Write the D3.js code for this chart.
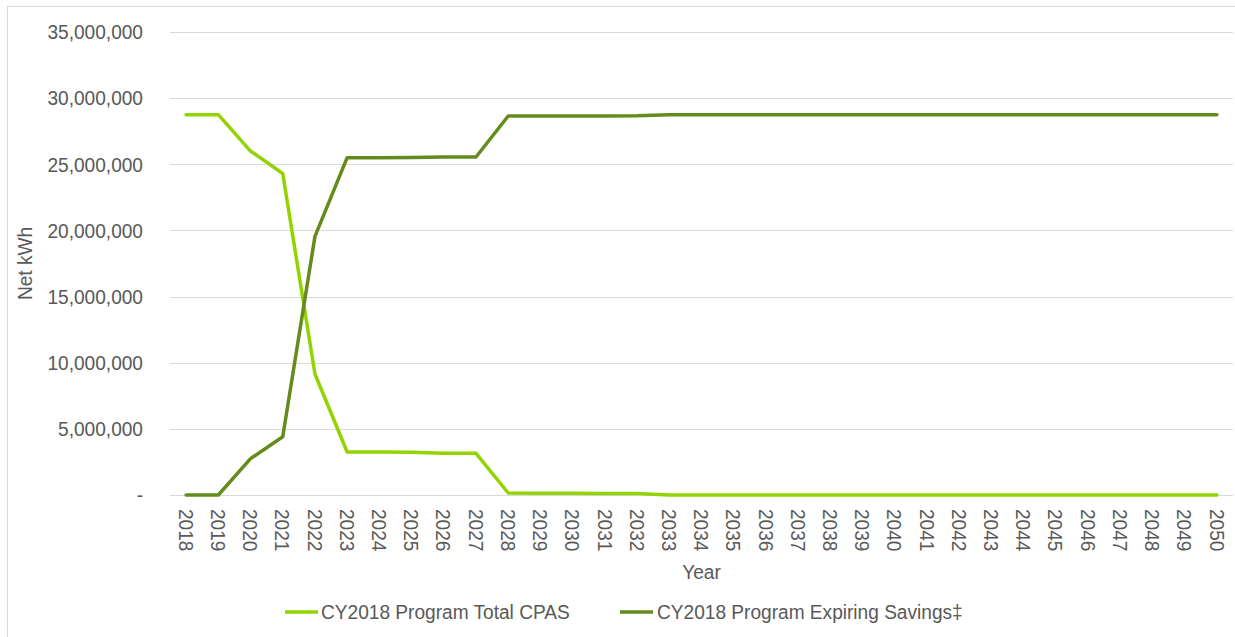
<!DOCTYPE html>
<html>
<head>
<meta charset="utf-8">
<script src="https://cdn.jsdelivr.net/npm/d3@7"></script>
<style>
  body { margin: 0; background: #fff; }
  svg text { font-family: "Liberation Sans", Arial, sans-serif; fill: #595959; }
</style>
</head>
<body>
<div id="chart"></div>
<script>
// data
const years = d3.range(2018, 2051).map(String);
const cpas = [28750000, 28750000, 26000000, 24300000, 9150000, 3250000, 3250000, 3230000, 3150000, 3150000,
  150000, 140000, 130000, 120000, 110000,
  0, 0, 0, 0, 0, 0, 0, 0, 0, 0, 0, 0, 0, 0, 0, 0, 0, 0];
const expiring = [0, 0, 2750000, 4400000, 19550000, 25500000, 25500000, 25520000, 25550000, 25550000,
  28650000, 28650000, 28650000, 28650000, 28660000,
  28750000, 28750000, 28750000, 28750000, 28750000, 28750000, 28750000, 28750000, 28750000, 28750000,
  28750000, 28750000, 28750000, 28750000, 28750000, 28750000, 28750000, 28750000];
const yTicks = [0, 5000000, 10000000, 15000000, 20000000, 25000000, 30000000, 35000000];
const seriesNames = ["CY2018 Program Total CPAS", "CY2018 Program Expiring Savings\u2021"];
const colors = ["#92d400", "#648c1c"];

const W = 1235, H = 637;
const m = {top: 32, right: 2, bottom: 142, left: 170};
const iw = W - m.left - m.right, ih = H - m.top - m.bottom;
const sx = 0.91; // narrow the text like the original's condensed face

const svg = d3.select("#chart").append("svg")
  .attr("width", W).attr("height", H);

// outer border
svg.append("rect")
  .attr("x", 7.5).attr("y", 6.5)
  .attr("width", W).attr("height", H)
  .attr("fill", "none").attr("stroke", "#d9d9d9");

const g = svg.append("g").attr("transform", `translate(${m.left},${m.top})`);

const x = d3.scaleBand().domain(years).range([0, iw]);
const y = d3.scaleLinear().domain([0, 35000000]).range([ih, 0]);

// gridlines
g.append("g").selectAll("line")
  .data(yTicks).enter().append("line")
  .attr("x1", 0).attr("x2", iw)
  .attr("y1", d => Math.round(y(d)) + 0.5).attr("y2", d => Math.round(y(d)) + 0.5)
  .attr("stroke", "#d9d9d9").attr("stroke-width", 1);

// y axis labels
const fmt = d3.format(",");
g.append("g").selectAll("text")
  .data(yTicks).enter().append("text")
  .attr("transform", d => `translate(-27,${y(d)}) scale(${sx},1)`)
  .attr("dy", "0.35em")
  .attr("text-anchor", "end")
  .style("font-size", "21px")
  .text(d => d === 0 ? "-" : fmt(d));

// x axis labels
g.append("g").selectAll("text")
  .data(years).enter().append("text")
  .attr("transform", d => `translate(${x(d) + x.bandwidth() / 2},${ih + 14}) rotate(90) scale(${sx},1)`)
  .attr("dy", "0.35em")
  .attr("text-anchor", "start")
  .style("font-size", "21px")
  .text(d => d);

// axis titles
svg.append("text")
  .attr("transform", `translate(32,${m.top + ih / 2}) rotate(-90) scale(${sx},1)`)
  .attr("text-anchor", "middle")
  .style("font-size", "21px")
  .text("Net kWh");
svg.append("text")
  .attr("transform", `translate(${m.left + iw / 2},579) scale(${sx},1)`)
  .attr("text-anchor", "middle")
  .style("font-size", "21px")
  .text("Year");

// lines
const line = d3.line()
  .x((d, i) => x(years[i]) + x.bandwidth() / 2)
  .y(d => y(d));
[cpas, expiring].forEach((s, i) => {
  g.append("path")
    .datum(s)
    .attr("fill", "none")
    .attr("stroke", colors[i])
    .attr("stroke-width", 3.5)
    .attr("stroke-linejoin", "round")
    .attr("stroke-linecap", "round")
    .attr("d", line);
});

// legend
const legendItems = [{x: 285, tx: 321}, {x: 620, tx: 657}];
legendItems.forEach((it, i) => {
  svg.append("line")
    .attr("x1", it.x).attr("x2", it.x + 33)
    .attr("y1", 612).attr("y2", 612)
    .attr("stroke", colors[i]).attr("stroke-width", 3.5);
  svg.append("text")
    .attr("transform", `translate(${it.tx},612) scale(${sx},1)`)
    .attr("dy", "0.35em")
    .style("font-size", "21px")
    .text(seriesNames[i]);
});
</script>
</body>
</html>
